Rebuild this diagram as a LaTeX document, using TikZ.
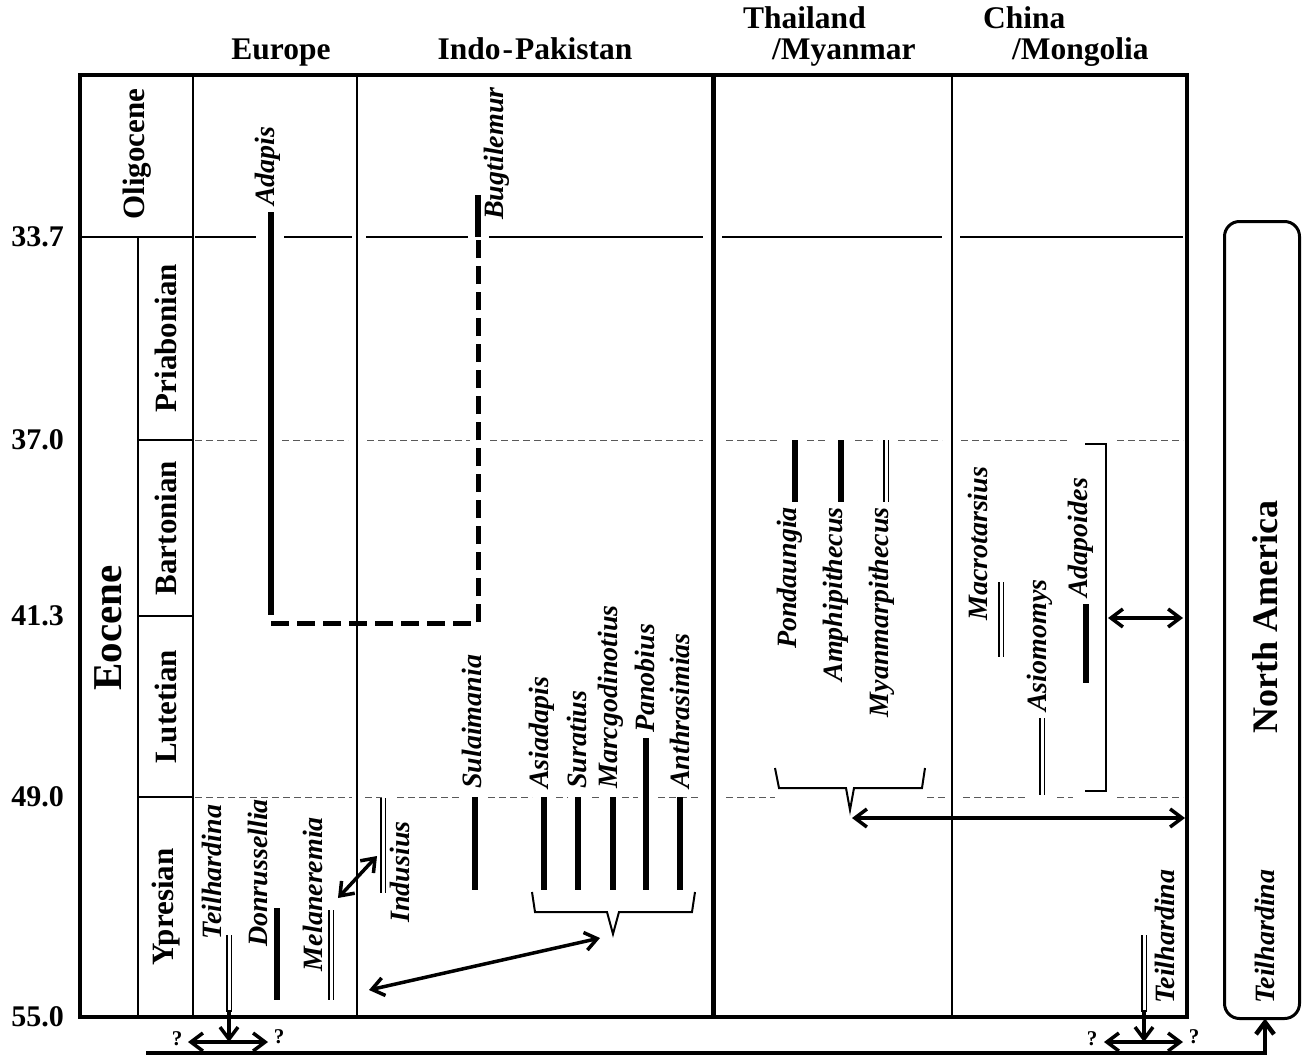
\documentclass[tikz,border=0pt]{standalone}
\usepackage{fontspec}
\setmainfont{Liberation Serif}
\usetikzlibrary{arrows.meta}

\begin{document}
\begin{tikzpicture}[x=1pt,y=-1pt,>={Straight Barb[length=12pt,width=18pt]},
    hdr/.style={font=\fontsize{31.5}{33}\selectfont\bfseries,inner sep=0pt,anchor=base west},
    agelbl/.style={font=\fontsize{30}{32}\selectfont\bfseries,inner sep=0pt,anchor=east},
    stage/.style={font=\fontsize{31}{33}\selectfont\bfseries,inner sep=0pt,rotate=90},
    taxon/.style={font=\fontsize{28}{30}\selectfont\bfseries\itshape,inner sep=0pt,rotate=90},
    qmark/.style={font=\fontsize{21}{23}\selectfont\bfseries,inner sep=0pt},
    bar/.style={line width=6pt},
    dbar/.style={double,double distance=3pt,line width=1.3pt},
    datum/.style={line width=0.8pt,black!65,dash pattern=on 7pt off 4pt},
    thinline/.style={line width=1.1pt},
    brace/.style={line width=2pt},
    conn/.style={line width=3.5pt,<->}]
  \useasboundingbox (0,0) rectangle (1302,1057);

  \node[hdr,anchor=base] (europe) at (281,60) {Europe};
  \node[hdr,anchor=base] (indopak) at (535,60) {Indo\kern2pt-\kern2pt Pakistan};
  \node[hdr] (thailand) at (743,29) {Thailand};
  \node[hdr] (myanmar) at (772,60) {/Myanmar};
  \node[hdr] (china) at (983,29) {China};
  \node[hdr] (mongolia) at (1012,60) {/Mongolia};

  \draw[line width=3.5pt] (80,75) rectangle (1187,1017);
  \draw[line width=2pt] (80,237)--(193,237) (138,237)--(138,1017) (193,75)--(193,1017);
  \foreach \y in {440,616,797} \draw[line width=2pt] (138,\y)--(193,\y);
  \draw[line width=2pt] (357,75)--(357,1017) (952,75)--(952,1017);
  \draw[line width=5pt] (713,75)--(713,1017);

  \foreach \y/\t [count=\i] in {237/33.7,440/37.0,616/41.3,797/49.0,1017/55.0}
    \node[agelbl] (age\i) at (64,\y) {\t};

  \node[stage] (oligocene) at (137,154) {Oligocene};
  \node[stage,font=\fontsize{41}{43}\selectfont\bfseries] (eocene) at (108,628) {Eocene};
  \node[stage] (priabonian) at (166,338) {Priabonian};
  \node[stage] (bartonian) at (166,528) {Bartonian};
  \node[stage] (lutetian) at (166,707) {Lutetian};
  \node[stage] (ypresian) at (166,907) {Ypresian};

  \foreach \a/\b in {195/256,284/352,366/468,489/703,722/942,960/1183}
    \draw[thinline] (\a,237)--(\b,237);
  \foreach \a/\b in {195/258,282/348,367/470,490/703,726/780,807/827,855/877,898/942,961/1070,1117/1183}
    \draw[datum] (\a,440)--(\b,440);
  \foreach \a/\b in {195/352,365/382,397/462,488/532,556/568,592/602,622/638,658/700,726/775,927/947,963/1027,1057/1073,1117/1183}
    \draw[datum] (\a,797)--(\b,797);

  \draw[bar] (271,212)--(271,615);
  \draw[bar] (478,195)--(478,237);
  \draw[line width=5pt,dash pattern=on 18pt off 8pt] (271,623)--(478,623)--(478,237);
  \node[taxon,anchor=west] (adapis) at (268,206) {Adapis};
  \node[taxon,anchor=west] (bugtilemur) at (497,220) {Bugtilemur};

  \node[taxon] (teilEu) at (212,872) {Teilhardina};
  \node[taxon] (donrussellia) at (258,873) {Donrussellia};
  \node[taxon] (melaneremia) at (313,894) {Melaneremia};
  \node[taxon] (indusius) at (400,872) {Indusius};
  \draw[dbar] (229,935)--(229,1012);
  \draw[bar] (277,908)--(277,1000);
  \draw[dbar] (331,910)--(331,1000);
  \draw[dbar] (383,798)--(383,893);

  \foreach \x/\n in {472/Sulaimania,542/Asiadapis,577/Suratius,611/Marcgodinotius,680/Anthrasimias}
    \node[taxon,anchor=west] (\n) at (\x,789) {\n};
  \node[taxon,anchor=west] (Panobius) at (645,733) {Panobius};
  \foreach \x in {475,544,578,613,680} \draw[bar] (\x,797)--(\x,890);
  \draw[bar] (646,738)--(646,890);
  \coordinate (indoTip) at (613,934);
  \draw[brace] (532,892)--(535,912)--(607,912)--(indoTip)--(619,912)--(692,912)--(695,892);

  \draw[bar] (795,440)--(795,502);
  \draw[bar] (841,440)--(841,502);
  \draw[dbar] (886,440)--(886,502);
  \node[taxon,anchor=east] (pondaungia) at (790,507) {Pondaungia};
  \node[taxon,anchor=east] (amphipithecus) at (836,507) {Amphipithecus};
  \node[taxon,anchor=east] (myanmarpithecus) at (882,507) {Myanmarpithecus};
  \coordinate (thaiTip) at (850,810);
  \draw[brace] (775,768)--(779,788)--(846,788)--(thaiTip)--(854,788)--(922,788)--(925,768);

  \node[taxon,anchor=west] (macrotarsius) at (978,621) {Macrotarsius};
  \node[taxon,anchor=west] (asiomomys) at (1040,712) {Asiomomys};
  \node[taxon,anchor=west] (adapoides) at (1081,598) {Adapoides};
  \draw[dbar] (1001,582)--(1001,657);
  \draw[dbar] (1042,718)--(1042,795);
  \draw[bar] (1086,604)--(1086,683);
  \draw[brace] (1085,444)--(1106,444)--(1106,791)--(1085,791);
  \node[taxon,anchor=west] (teilCn) at (1165,1004) {Teilhardina};
  \draw[dbar] (1144,935)--(1144,1012);

  \node[draw,line width=3pt,rounded corners=15pt,minimum width=75pt,minimum height=797pt,inner sep=0pt,outer sep=0pt] (nabox) at (1262,620) {};
  \node[stage,font=\fontsize{36}{38}\selectfont\bfseries] (namerica) at (1265,617) {North America};
  \node[taxon,anchor=west] (teilNa) at (1265,1004) {Teilhardina};

  \coordinate (melArr) at (338,898);
  \coordinate (indArr) at (377,856);
  \draw[conn] (melArr)--(indArr);
  \coordinate (euArr) at (369,990);
  \coordinate (indoArr) at (600,938);
  \draw[conn] (euArr)--(indoArr);
  \coordinate (thaiArr) at (852,818);
  \coordinate (naArr) at (1185,818);
  \draw[conn] (thaiArr)--(naArr);
  \coordinate (adaArr) at (1108,618);
  \coordinate (naArr2) at (1183,618);
  \draw[conn] (adaArr)--(naArr2);

  \coordinate (euL) at (188,1042);
  \coordinate (euR) at (268,1042);
  \coordinate (teilEuEnd) at (229,1010);
  \draw[conn] (euL)--(euR);
  \draw[line width=3.5pt,->] (teilEuEnd)--(teilEuEnd |- euL);
  \node[qmark] (qEuL) at (177,1039) {?};
  \node[qmark] (qEuR) at (279,1037) {?};
  \coordinate (cnL) at (1104,1042);
  \coordinate (cnR) at (1183,1042);
  \coordinate (teilCnEnd) at (1144,1010);
  \draw[conn] (cnL)--(cnR);
  \draw[line width=3.5pt,->] (teilCnEnd)--(teilCnEnd |- cnL);
  \node[qmark] (qCnL) at (1092,1039) {?};
  \node[qmark] (qCnR) at (1194,1037) {?};

  \coordinate (bottomStart) at (146,1053);
  \draw[line width=4.5pt,->] (bottomStart) -| ([xshift=3pt]nabox.south);
\end{tikzpicture}
\end{document}
